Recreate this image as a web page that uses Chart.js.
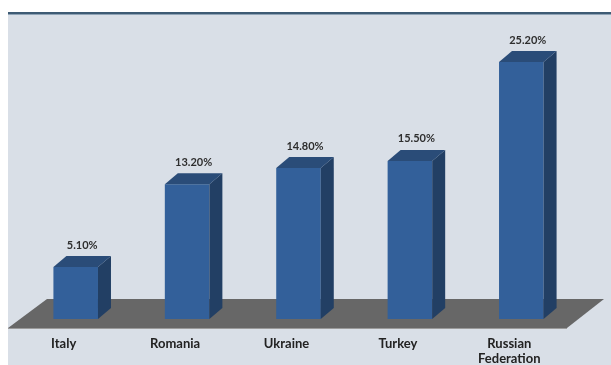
<!DOCTYPE html>
<html>
<head>
<meta charset="utf-8">
<script src="https://cdn.jsdelivr.net/npm/chart.js@4.4.1/dist/chart.umd.min.js"></script>
<style>
  html, body { margin: 0; padding: 0; background: #ffffff; }
  #wrap { width: 611px; height: 365px; }
</style>
</head>
<body>
<div id="wrap"><canvas id="c" width="611" height="365"></canvas></div>
<script>
// Share by country (percent)
const countries = ['Italy', 'Romania', 'Ukraine', 'Turkey', ['Russian', 'Federation']];
const shares = [5.1, 13.2, 14.8, 15.5, 25.2];

// 3D extrusion of each bar (pixels)
const DEPTH_X = 13;
const DEPTH_Y = 11;

const frontColor = '#33609a';
const sideColor = '#223f64';
const topColor = '#2a4c78';

const panelPlugin = {
  id: 'panel',
  beforeDraw(chart) {
    const ctx = chart.ctx;
    ctx.save();
    ctx.fillStyle = '#d9dfe7';
    ctx.fillRect(8, 14, chart.width - 8, chart.height - 14);
    ctx.fillStyle = '#3e5b74';
    ctx.fillRect(8, 12, chart.width - 8, 2);
    ctx.fillStyle = '#8ea3b6';
    ctx.fillRect(8, 14, chart.width - 8, 1);
    ctx.restore();
  },
  beforeDatasetsDraw(chart) {
    // grey floor under the bars
    const { ctx, chartArea } = chart;
    const b = chartArea.bottom;
    ctx.save();
    ctx.beginPath();
    ctx.moveTo(chartArea.left - 12, b + 9);
    ctx.lineTo(chartArea.right - 10, b + 9);
    ctx.lineTo(chartArea.right + 27, b - 20);
    ctx.lineTo(chartArea.left + 27, b - 20);
    ctx.closePath();
    ctx.fillStyle = '#676767';
    ctx.fill();
    ctx.fillStyle = '#9a9a9a';
    ctx.fillRect(chartArea.left - 12, b + 9, chartArea.right - chartArea.left + 2, 1);
    ctx.restore();
  },
  afterDatasetsDraw(chart) {
    const ctx = chart.ctx;
    const meta = chart.getDatasetMeta(0);
    const values = chart.data.datasets[0].data;
    ctx.save();
    meta.data.forEach((bar, i) => {
      const half = bar.width / 2;
      const l = bar.x - half, r = bar.x + half;
      const t = bar.y, base = bar.base;
      // side face
      ctx.beginPath();
      ctx.moveTo(r, t);
      ctx.lineTo(r + DEPTH_X, t - DEPTH_Y);
      ctx.lineTo(r + DEPTH_X, base - DEPTH_Y);
      ctx.lineTo(r, base);
      ctx.closePath();
      ctx.fillStyle = sideColor;
      ctx.fill();
      // top face
      ctx.beginPath();
      ctx.moveTo(l, t);
      ctx.lineTo(r, t);
      ctx.lineTo(r + DEPTH_X, t - DEPTH_Y);
      ctx.lineTo(l + DEPTH_X, t - DEPTH_Y);
      ctx.closePath();
      ctx.fillStyle = topColor;
      ctx.fill();
      // value label
      ctx.font = 'bold 11px Lato, "DejaVu Sans", sans-serif';
      ctx.fillStyle = '#2e2e2e';
      ctx.textAlign = 'center';
      ctx.textBaseline = 'middle';
      ctx.fillText(values[i].toFixed(2) + '%', bar.x + DEPTH_X / 2, t - DEPTH_Y - 11);
    });
    ctx.restore();
  }
};

new Chart(document.getElementById('c'), {
  type: 'bar',
  data: {
    labels: countries,
    datasets: [{
      data: shares,
      backgroundColor: frontColor,
      borderWidth: 0,
      barPercentage: 0.8,
      categoryPercentage: 0.5
    }]
  },
  options: {
    responsive: false,
    animation: false,
    layout: { padding: { left: 20, right: 34, top: 13, bottom: 0 } },
    plugins: {
      legend: { display: false },
      tooltip: { enabled: false }
    },
    scales: {
      y: { display: false, min: 0, max: 30 },
      x: {
        grid: { display: false, drawTicks: false },
        border: { display: false },
        ticks: {
          color: '#222222',
          font: { family: 'Lato, "DejaVu Sans", sans-serif', size: 13, weight: 'bold', lineHeight: 1.1 },
          labelOffset: -12,
          padding: 18,
          maxRotation: 0,
          autoSkip: false
        },
        afterFit(scale) { scale.height = 46; }
      }
    }
  },
  plugins: [panelPlugin]
});
</script>
</body>
</html>
